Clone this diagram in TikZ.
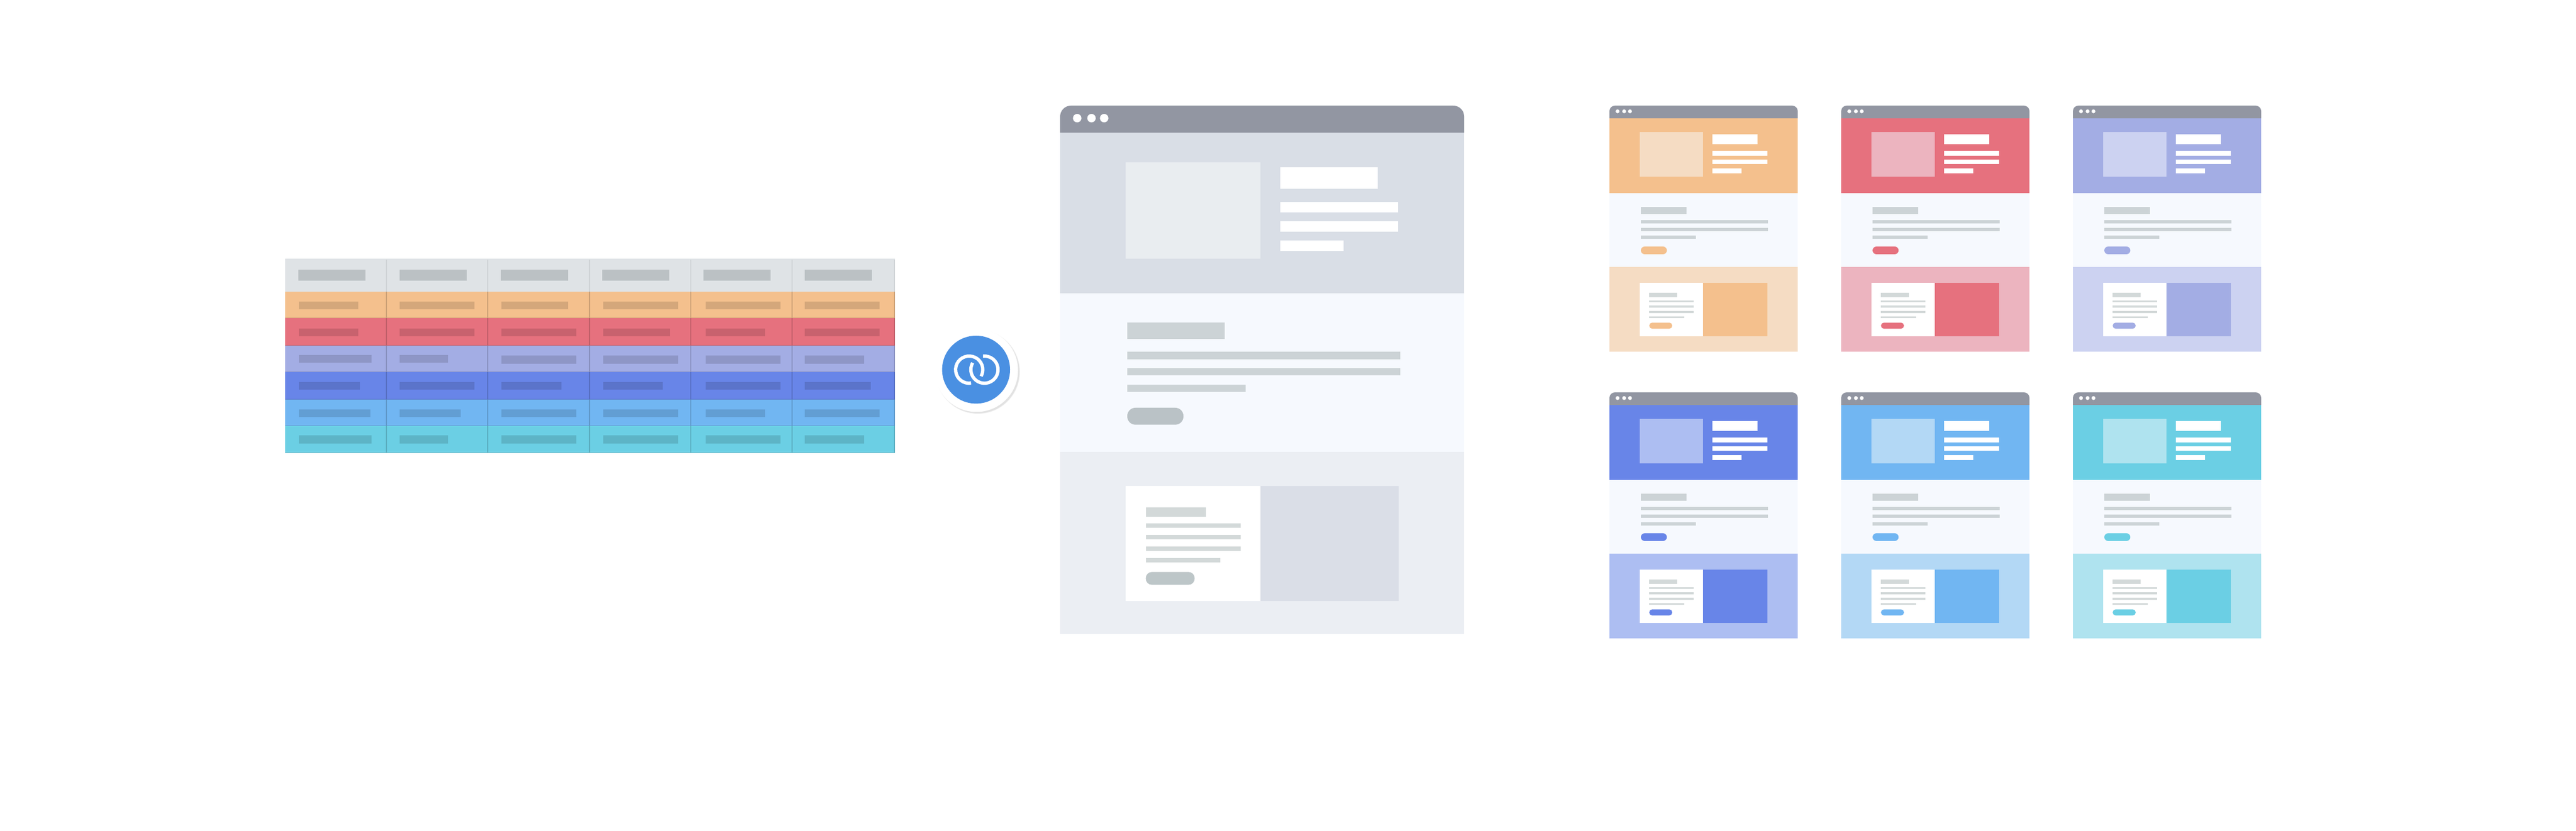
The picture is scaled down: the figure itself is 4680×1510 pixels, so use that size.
\documentclass[tikz,border=0pt]{standalone}
\usepackage{tikz}
\definecolor{cOrange}{HTML}{F4C08D}
\definecolor{cRed}{HTML}{E6717E}
\definecolor{cPurple}{HTML}{A3ADE4}
\definecolor{cBlue}{HTML}{6885E8}
\definecolor{cSky}{HTML}{71B6F2}
\definecolor{cTeal}{HTML}{6BCFE4}
\definecolor{pOrange}{HTML}{F5DCC3}
\definecolor{pRed}{HTML}{ECB4BF}
\definecolor{pPurple}{HTML}{CCD2F1}
\definecolor{pBlue}{HTML}{ADBEF2}
\definecolor{pSky}{HTML}{B3D8F5}
\definecolor{pTeal}{HTML}{AFE3EF}
\definecolor{cHead}{HTML}{DFE3E6}
\definecolor{cHeadBar}{HTML}{BBC1C4}
\definecolor{cTitleBar}{HTML}{9296A2}
\definecolor{cHero}{HTML}{D9DEE6}
\definecolor{cHeroImg}{HTML}{E9EDF0}
\definecolor{cPaper}{HTML}{F6F9FE}
\definecolor{cLine}{HTML}{CCD3D6}
\definecolor{cInner}{HTML}{D3D9D9}
\definecolor{cButton}{HTML}{BAC2C6}
\definecolor{cButtonIn}{HTML}{BDC6C8}
\definecolor{cLower}{HTML}{EBEEF3}
\definecolor{cLowerImg}{HTML}{DADEE7}
\definecolor{cBadge}{HTML}{4A90E2}
\tikzstyle{pillmain} = [rounded corners=4.2pt]
\tikzstyle{pillmainin} = [rounded corners=3.2pt]
\tikzstyle{pillcard} = [rounded corners=2pt]
\tikzstyle{pillcardin} = [rounded corners=1.5pt]
\tikzstyle{gridline} = [line width=0.012cm]
\tikzstyle{ring} = [white, line width=0.06cm]
\newcommand{\rowband}[3]{
	\fill[#3] (518,#1) rectangle (1626,#2);
	\draw[#3!86!black, line width=0.016cm] (518,#2) -- (1626,#2);
	\foreach \colx in {702,886,1071,1255,1439,1625}
		\draw[gridline, #3!84!black] (\colx,#1) -- (\colx,#2);
}
\newcommand{\rowbars}[9]{
	\fill[#3!87!black] (543,#1) rectangle +(#4,14.5);
	\fill[#3!87!black] (725.5,#1) rectangle +(#5,14.5);
	\fill[#3!87!black] (911,#2) rectangle +(#6,14.5);
	\fill[#3!87!black] (1096,#2) rectangle +(#7,14.5);
	\fill[#3!87!black] (1282,#2) rectangle +(#8,14.5);
	\fill[#3!87!black] (1462,#2) rectangle +(#9,14.5);
}
\newcommand{\webcard}[4]{
	\begin{scope}[shift={(#1,#2)}]
		\fill[cTitleBar] [rounded corners=2.8pt] (0,23) -- (0,0) -- (342,0) [sharp corners] -- (342,23) -- cycle;
		\fill[white] (14.7,10.3) circle[radius=3.5];
		\fill[white] (26.7,10.3) circle[radius=3.5];
		\fill[white] (37.3,10.3) circle[radius=3.5];
		\fill[#3] (0,23) rectangle (342,158.7);
		\fill[#4] (55.3,47.7) rectangle (169.7,129.3);
		\fill[white] (186.7,52) rectangle (269,70.3);
		\fill[white] (186.7,81.7) rectangle (286.7,90.7);
		\fill[white] (186.7,98) rectangle (286.7,106.3);
		\fill[white] (186.7,114.3) rectangle (240.3,123);
		\fill[cPaper] (0,158.7) rectangle (342,293);
		\fill[cLine] (57,183.7) rectangle (139.7,197.3);
		\fill[cLine] (57,208) rectangle (288.3,214.3);
		\fill[cLine] (57,222) rectangle (288.3,228.3);
		\fill[cLine] (57,236) rectangle (157,242.3);
		\fill[#3, pillcard] (57,256) rectangle (104.3,270);
		\fill[#4] (0,293) rectangle (342,447);
		\fill[white] (55.3,322) rectangle (169.7,419);
		\fill[#3] (169.7,322) rectangle (286.7,419);
		\fill[cInner] (72.3,339.7) rectangle (123.3,348);
		\fill[cInner] (72.3,353.7) rectangle (152.7,357.3);
		\fill[cInner] (72.3,363.3) rectangle (152.7,367);
		\fill[cInner] (72.3,373) rectangle (152.7,376.7);
		\fill[cInner] (72.3,382.7) rectangle (135.7,386.3);
		\fill[#3, pillcardin] (72.3,394.3) rectangle (114,405.3);
	\end{scope}
}

\begin{document}
\begin{tikzpicture}[x=0.01cm, y=-0.01cm]
	\useasboundingbox (0,0) rectangle (4680,1510);

	\fill[cHead] (518,470) rectangle (1626,530);
	\foreach \colx in {702,886,1071,1255,1439,1625}
		\draw[gridline, cHead!93!black] (\colx,472) -- (\colx,530);
	\fill[cHeadBar] (542,490) rectangle (664,510);
	\fill[cHeadBar] (726,490) rectangle (848,510);
	\fill[cHeadBar] (910,490) rectangle (1032,510);
	\fill[cHeadBar] (1094,490) rectangle (1216,510);
	\fill[cHeadBar] (1278,490) rectangle (1400,510);
	\fill[cHeadBar] (1462,490) rectangle (1584,510);

	\rowband{530}{578}{cOrange}
	\rowband{578}{627.7}{cRed}
	\rowband{627.7}{676.3}{cPurple}
	\rowband{676.3}{726}{cBlue}
	\rowband{726}{774}{cSky}
	\rowband{774}{822.7}{cTeal}
	\rowbars{548}{548}{cOrange}{108}{136}{121}{136}{136}{136}
	\rowbars{597}{597}{cRed}{108}{136}{136}{121}{108}{136}
	\rowbars{645}{646.3}{cPurple}{132}{88}{136}{136}{136}{108}
	\rowbars{694}{694}{cBlue}{111}{136}{108.5}{108}{136}{120}
	\rowbars{743.7}{743.7}{cSky}{130}{111.6}{136}{136}{108}{136}
	\rowbars{791.3}{791.3}{cTeal}{132}{88}{136}{136}{136}{108}

	\foreach \shadowr in {75.5,76.5}
		\fill[black, opacity=0.06] (1776.5,675.5) circle[radius=\shadowr];
	\fill[white] (1774,673) circle[radius=75.5];
	\fill[cBadge] (1773.3,671.7) circle[radius=61.7];
	\draw[ring] (1760.8,671.7) ++(82:24.7) arc[start angle=82, end angle=389, radius=24.7];
	\draw[ring] (1788.5,671.7) ++(-96:24.7) arc[start angle=-96, end angle=210, radius=24.7];

	\fill[cTitleBar] [rounded corners=5.6pt] (1926,241) -- (1926,192) -- (2660,192) [sharp corners] -- (2660,241) -- cycle;
	\fill[white] (1957,214.7) circle[radius=7.7];
	\fill[white] (1983,214.7) circle[radius=7.7];
	\fill[white] (2006,214.7) circle[radius=7.7];

	\fill[cHero] (1926,241) rectangle (2660,532.7);
	\fill[cHeroImg] (2045,294.7) rectangle (2290,470);
	\fill[white] (2326,303.7) rectangle (2503,343.3);
	\fill[white] (2326,367.3) rectangle (2540,386.3);
	\fill[white] (2326,402) rectangle (2540,421);
	\fill[white] (2326,437.3) rectangle (2441,456.3);

	\fill[cPaper] (1926,532.7) rectangle (2660,821);
	\fill[cLine] (2048,586) rectangle (2225,616);
	\fill[cLine] (2048,639.3) rectangle (2544,652.7);
	\fill[cLine] (2048,669) rectangle (2544,682.3);
	\fill[cLine] (2048,699) rectangle (2262.8,712.3);
	\fill[cButton, pillmain] (2048,741) rectangle (2150,771.7);

	\fill[cLower] (1926,821) rectangle (2660,1152);
	\fill[white] (2045,883) rectangle (2289.5,1092);
	\fill[cLowerImg] (2289.5,883) rectangle (2541,1092);
	\fill[cInner] (2081.6,921.7) rectangle (2190.8,939.3);
	\fill[cInner] (2081.6,951.3) rectangle (2253.6,959);
	\fill[cInner] (2081.6,972.3) rectangle (2253.6,980);
	\fill[cInner] (2081.6,993) rectangle (2253.6,1001);
	\fill[cInner] (2081.6,1014) rectangle (2216.8,1021.7);
	\fill[cButtonIn, pillmainin] (2081.6,1039.3) rectangle (2170.4,1062.7);

	\webcard{2924}{192}{cOrange}{pOrange}
	\webcard{3345}{192}{cRed}{pRed}
	\webcard{3766}{192}{cPurple}{pPurple}
	\webcard{2924}{713}{cBlue}{pBlue}
	\webcard{3345}{713}{cSky}{pSky}
	\webcard{3766}{713}{cTeal}{pTeal}
\end{tikzpicture}
\end{document}
